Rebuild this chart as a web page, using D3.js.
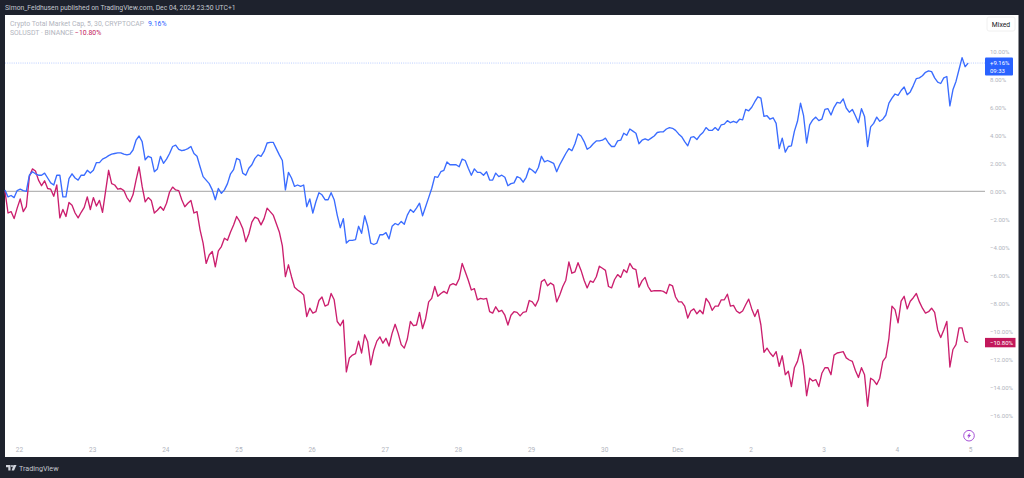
<!DOCTYPE html>
<html><head><meta charset="utf-8">
<script src="https://cdn.jsdelivr.net/npm/d3@7/dist/d3.min.js"></script>
<style>html,body{margin:0;padding:0;background:#1e222d;overflow:hidden}svg{display:block}text{font-family:Roboto,"Noto Sans",sans-serif}</style>
</head><body><svg id="c" width="1024" height="478"></svg>
<script>
const publishLine = "Simon_Feldhusen published on TradingView.com, Dec 04, 2024 23:50 UTC+1";
const capName = "Crypto Total Market Cap, 5, 30, CRYPTOCAP", capLast = 9.16, capClock = "09:33";
const solName = "SOLUSDT · BINANCE", solLast = -10.80;
const seriesStartHoursBefore22 = 4.6; // first reading, hours before Nov 22 00:00; one reading per hour
const dayTicks = [[2024,10,22,"22"],[2024,10,23,"23"],[2024,10,24,"24"],[2024,10,25,"25"],[2024,10,26,"26"],[2024,10,27,"27"],[2024,10,28,"28"],[2024,10,29,"29"],[2024,10,30,"30"],[2024,11,1,"Dec"],[2024,11,2,"2"],[2024,11,3,"3"],[2024,11,4,"4"],[2024,11,5,"5"]];
const pctTicks = [10,8,6,4,2,0,-2,-4,-6,-8,-10,-12,-14,-16];
const capValues = [0.1,-0.4,-0.3,-0.45,0.05,0.15,0.05,0,1.15,1.4,1.25,1.15,1.15,1.3,0.95,0.6,0.45,1.15,1.15,-0.4,-0.4,0.9,1.25,0.95,0.8,1.15,1.15,1.5,1.3,1.5,2.05,2.05,2.3,2.4,2.55,2.65,2.7,2.75,2.75,2.65,2.6,2.65,2.95,3.65,3.95,3.55,2.25,2.5,2.4,1.4,1.6,2.5,2.0,2.3,2.7,3.2,3.3,3.0,2.9,2.95,3.05,3.2,2.7,2.5,1.75,1.05,0.8,0.55,0.1,-0.6,0.2,-0.15,0.1,0.55,1.25,1.55,2.35,2.25,1.3,1.15,1.65,1.9,2.35,2.6,2.5,2.85,3.45,3.5,3.5,3.05,2.6,2.2,0.1,1.35,0.95,0.35,0.45,0.35,0.45,-1.1,-0.55,-1.55,-0.75,-0.1,-0.25,-0.6,-0.6,-0.1,-0.6,-1.7,-2.6,-1.95,-3.7,-3.5,-3.5,-3.45,-2.5,-3.0,-1.75,-2.5,-3.7,-3.8,-3.7,-3.1,-3.1,-2.95,-3.4,-2.5,-2.3,-2.4,-2.15,-2.35,-1.7,-1.3,-1.5,-1.2,-0.85,-1.75,-1.1,-0.45,0.2,1.05,1.0,1.4,1.5,2.1,1.9,1.9,1.9,1.75,2.3,2.2,1.65,1.15,1.6,1.35,1.35,1.15,1.4,0.8,0.8,1.3,1.05,1.15,1.0,0.4,0.55,0.6,1.05,0.95,0.65,1.0,1.65,1.5,1.3,1.7,2.5,2.1,2.2,2.1,2.0,1.4,1.9,2.3,2.7,3.05,2.9,3.4,4.1,3.95,3.55,3.0,3.15,3.4,3.6,3.6,3.65,3.8,3.45,3.2,3.2,3.6,3.65,4.15,4.0,4.45,4.3,4.15,3.4,3.65,3.75,3.65,3.8,3.95,4.2,4.25,4.25,4.45,4.55,4.5,4.35,4.1,3.9,3.55,3.25,3.85,3.9,3.7,4.0,4.2,4.55,4.35,4.35,4.55,4.35,4.75,4.8,5.05,4.9,5.0,4.9,5.15,5.1,5.85,5.75,6.0,6.4,6.75,6.65,5.35,5.4,5.15,5.25,4.85,3.05,3.8,2.8,3.2,3.25,4.3,5.0,6.3,5.4,3.45,4.75,5.1,5.3,5.05,5.15,5.85,5.9,5.45,6.0,6.35,6.3,6.6,5.95,5.65,5.85,5.4,4.9,5.9,5.35,3.2,4.6,4.85,5.3,5.0,5.15,5.45,6.3,6.65,6.95,6.85,7.2,7.45,6.9,7.1,7.55,8.05,8.1,8.25,8.5,8.6,8.55,8.1,7.8,7.7,8.1,8.2,6.1,7.25,7.85,8.7,9.55,8.9,9.16];
const solValues = [0,-1.55,-1.45,-1.95,-1.2,-0.55,-1.45,-1.1,1.05,1.6,1.45,0.8,0.4,0.75,0.2,0.15,-0.35,0.45,-1.9,-1.3,-1.8,-0.8,-1.0,-1.55,-1.9,-1.5,-1.15,-0.4,-1.3,-0.45,-1.05,-0.65,-1.5,0,1.5,0.55,0.45,0.15,0.2,0.05,-0.45,-0.75,-0.25,0.8,1.75,0.35,-0.75,-0.45,-0.65,-1.55,-1.35,-1.1,-1.35,-0.85,-0.05,0.3,0.1,0.05,-0.6,-1.1,-0.85,-0.65,-1.55,-1.45,-2.75,-3.7,-5.15,-4.55,-4.3,-5.4,-4.25,-3.95,-3.35,-3.5,-2.9,-2.4,-1.8,-2.15,-2.65,-3.6,-3.05,-2.2,-1.85,-1.95,-2.4,-1.95,-1.2,-1.45,-1.7,-2.3,-2.9,-3.9,-6.1,-5.25,-6.1,-6.85,-7.05,-7.2,-7.4,-8.95,-8.35,-8.7,-8.6,-7.8,-7.55,-8.2,-8.1,-7.3,-7.75,-9.3,-9.6,-9.2,-12.9,-11.9,-11.7,-11.6,-10.7,-11.55,-10.25,-10.75,-12.4,-11.35,-10.7,-10.4,-10.85,-10.5,-11.05,-10.15,-9.5,-10.15,-10.95,-11.2,-10.55,-9.3,-9.6,-9.55,-8.65,-9.8,-9.1,-7.9,-7.65,-6.8,-7.5,-7.3,-7.15,-7.3,-6.7,-6.6,-6.7,-6.25,-5.15,-5.75,-6.35,-7.05,-6.95,-7.75,-7.65,-7.7,-7.65,-8.6,-8.7,-8.25,-8.6,-8.5,-8.85,-9.55,-8.85,-8.6,-8.65,-8.9,-8.65,-8.6,-7.8,-7.9,-8.2,-7.75,-6.45,-6.3,-6.75,-6.55,-6.7,-7.9,-7.4,-6.8,-6.35,-5.05,-5.85,-5.75,-5.1,-5.65,-6.35,-6.9,-6.4,-6.5,-6.1,-5.35,-5.5,-5.65,-6.8,-6.9,-6.3,-5.95,-6.15,-5.6,-5.8,-5.15,-5.5,-5.6,-6.85,-6.4,-6.15,-6.8,-7.15,-7.1,-7.1,-7.1,-7.15,-7.3,-6.65,-6.75,-7.55,-7.9,-7.9,-8.2,-9.05,-8.55,-8.4,-8.75,-8.5,-8.75,-7.65,-7.95,-8.5,-8.2,-8.2,-7.75,-7.75,-7.35,-8.2,-8.15,-8.55,-8.7,-8.55,-8.1,-7.7,-8.4,-8.95,-8.45,-9.55,-11.5,-11.2,-11.55,-11.8,-11.45,-12.5,-11.75,-13.1,-12.85,-13.95,-12.6,-12.15,-11.3,-12.45,-14.6,-13.35,-13.55,-13.45,-13.95,-13.0,-12.6,-12.6,-13.1,-11.7,-11.55,-11.5,-11.45,-11.9,-12.05,-12.15,-12.8,-13.3,-12.6,-13.1,-15.35,-13.35,-13.5,-13.8,-13.35,-12.15,-11.85,-10.5,-8.2,-8.45,-9.4,-7.85,-7.5,-8.4,-7.85,-7.6,-7.3,-7.9,-8.35,-8.7,-8.6,-8.35,-8.65,-9.9,-10.45,-9.9,-9.3,-12.55,-11.3,-10.95,-9.75,-9.75,-10.7,-10.8];

const BLUE = "#3a6cff", RED = "#cb1f6e", LBLUE = "#2962ff", LRED = "#c2185b", GREY = "#b2b5be";
const fmtPct = v => (v < 0 ? "\u2212" : "") + Math.abs(v).toFixed(2) + "%";
const svg = d3.select("#c");
const t0 = Date.UTC(2024,10,22);
const x = d3.scaleUtc().domain([new Date(t0), new Date(Date.UTC(2024,11,5))]).range([19, 970]);
const y = d3.scaleLinear().domain([0,10]).range([191.3, 51.3]);
const tm = i => new Date(t0 + (i - seriesStartHoursBefore22) * 3600000);

svg.append("text").attr("x",5).attr("y",10).attr("fill","#c4c7cf").attr("font-size",6.8).text(publishLine);
svg.append("rect").attr("x",5).attr("y",15).attr("width",1013.5).attr("height",442).attr("fill","#fff");

svg.append("line").attr("x1",5).attr("x2",985).attr("y1",y(capLast)).attr("y2",y(capLast)).attr("stroke","#2962ff").attr("stroke-opacity",.45).attr("stroke-dasharray","1 1.2").attr("stroke-width",.7);
svg.append("line").attr("x1",5).attr("x2",985).attr("y1",y(0)).attr("y2",y(0)).attr("stroke","#9a9a9a").attr("stroke-width",.9);

const line = d3.line().x((d,i)=>x(tm(i))).y(d=>y(d)).curve(d3.curveLinear);
svg.append("path").datum(solValues).attr("d",line).attr("fill","none").attr("stroke",RED).attr("stroke-width",1.35).attr("stroke-linejoin","round");
svg.append("path").datum(capValues).attr("d",line).attr("fill","none").attr("stroke",BLUE).attr("stroke-width",1.35).attr("stroke-linejoin","round");

const yAxis = d3.axisRight(y).tickValues(pctTicks).tickFormat(fmtPct).tickSize(0).tickPadding(5);
const gy = svg.append("g").attr("transform","translate(985,0)").call(yAxis);
gy.select(".domain").remove();
gy.selectAll("text").attr("fill",GREY).attr("font-size",6).attr("font-family","Roboto,sans-serif");

const dates = dayTicks.map(d=>new Date(Date.UTC(d[0],d[1],d[2])));
const xAxis = d3.axisBottom(x).tickValues(dates).tickFormat((d,i)=>dayTicks[i][3]).tickSize(0).tickPadding(0);
const gx = svg.append("g").attr("transform","translate(0,447)").call(xAxis);
gx.select(".domain").remove();
gx.selectAll("text").attr("fill",GREY).attr("font-size",6.5).attr("font-family","Roboto,sans-serif");

const leg = svg.append("g").attr("font-size",6.9);
leg.append("text").attr("x",10).attr("y",25.5).attr("fill",GREY).text(capName);
leg.append("text").attr("x",148).attr("y",25.5).attr("fill","#2962ff").text(capLast.toFixed(2)+"%");
leg.append("text").attr("x",10).attr("y",35).attr("fill",GREY).text(solName);
leg.append("text").attr("x",75).attr("y",35).attr("fill",LRED).text(fmtPct(solLast));

svg.append("rect").attr("x",987).attr("y",17).attr("width",28).attr("height",14).attr("rx",2).attr("fill","#fff").attr("stroke","#ececec").attr("stroke-width",.8);
svg.append("text").attr("x",1001).attr("y",26.5).attr("text-anchor","middle").attr("font-size",6.8).attr("fill","#131722").text("Mixed");

svg.append("rect").attr("x",985).attr("y",y(capLast)-5.5).attr("width",28).attr("height",18).attr("rx",1).attr("fill",LBLUE);
svg.append("text").attr("x",990).attr("y",y(capLast)+2.3).attr("font-size",6).attr("fill","#fff").text("+"+capLast.toFixed(2)+"%");
svg.append("text").attr("x",990).attr("y",y(capLast)+10).attr("font-size",6).attr("fill","#fff").text(capClock);
svg.append("rect").attr("x",985).attr("y",y(solLast)-4.6).attr("width",30.5).attr("height",9.4).attr("fill",LRED);
svg.append("text").attr("x",990).attr("y",y(solLast)+2.2).attr("font-size",6).attr("fill","#fff").text(fmtPct(solLast));

const ic = svg.append("g").attr("transform","translate(969,435.7)");
ic.append("circle").attr("r",5.3).attr("fill","#fff").attr("stroke","#9c3fd0").attr("stroke-width",.9);
ic.append("path").attr("d","M1,-3 L-2,0.6 L-0.3,0.6 L-1,3 L2,-0.6 L0.3,-0.6 Z").attr("fill","#9c3fd0");

const logo = svg.append("g").attr("transform","translate(6,465)").attr("fill","#d1d4dc");
logo.append("path").attr("d","M0,0 H4.5 V5.5 H2.3 V2.2 H0 Z");
logo.append("circle").attr("cx",6).attr("cy",1).attr("r",1);
logo.append("path").attr("d","M7.5,0 H10.5 L8,5.5 H5.6 Z");
svg.append("text").attr("x",19).attr("y",471).attr("font-size",7.2).attr("fill","#c4c7cf").text("TradingView");
</script></body></html>
